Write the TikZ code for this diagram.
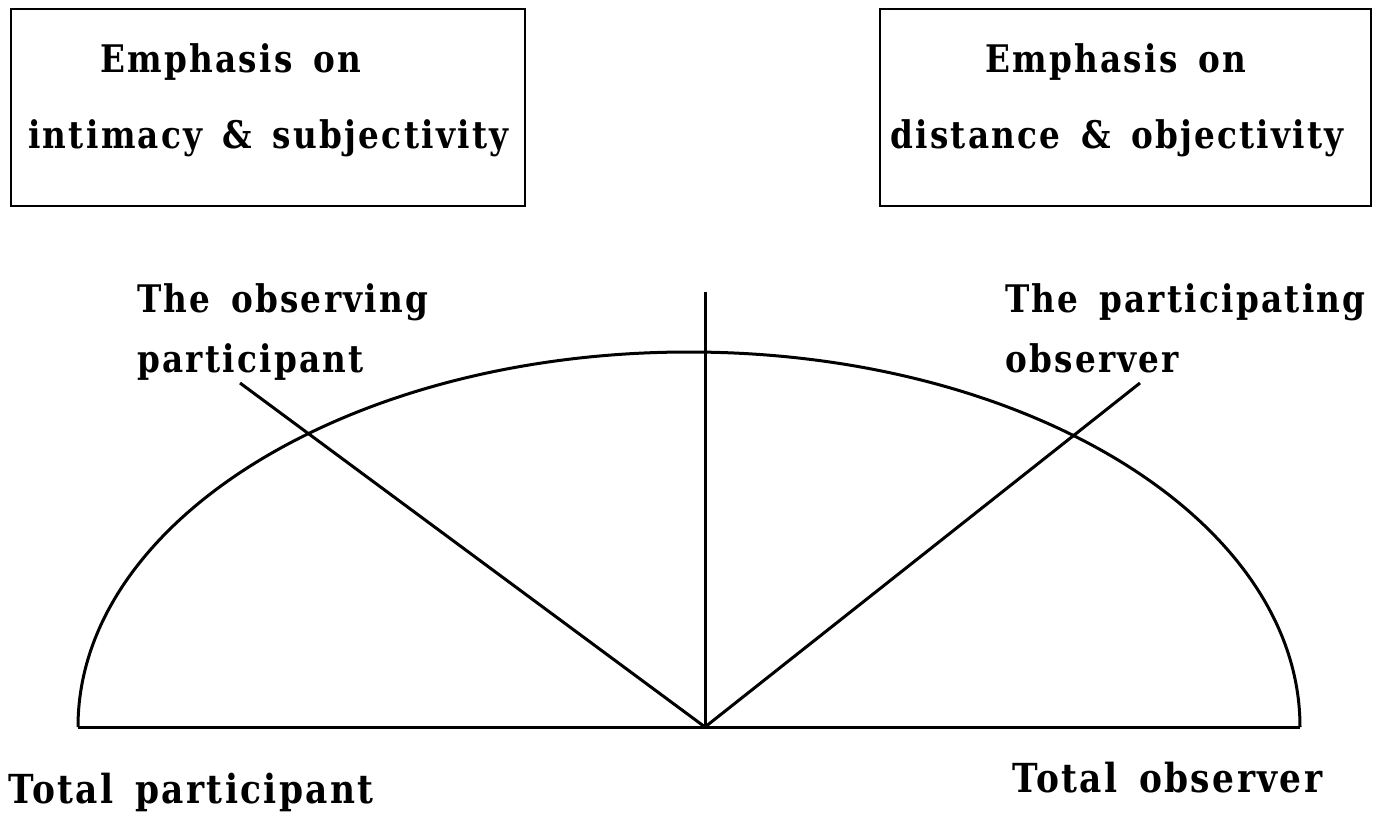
\documentclass[tikz,border=0pt]{standalone}
\usepackage{fontspec}
\newfontfamily\lblfont{DejaVu Serif}[LetterSpace=6,FakeStretch=0.86,WordSpace=1.5]
\begin{document}
\begin{tikzpicture}[x=1pt,y=-1pt,
  lbl/.style={anchor=base west,inner sep=0pt,font=\lblfont\bfseries\fontsize{38}{38}\selectfont},
  biglbl/.style={lbl,font=\lblfont\bfseries\fontsize{40}{40}\selectfont},
  frame/.style={draw,line width=2pt},
  ln/.style={line width=3pt}]
\useasboundingbox (0,0) rectangle (1377,814);
% boxes
\node[frame,minimum width=514pt,minimum height=197pt,anchor=north west] (lbox) at (10,8) {};
\node[frame,minimum width=491pt,minimum height=197pt,anchor=north west] (rbox) at (879,8) {};
\node[lbl] (l1) at (100,72) {Emphasis on};
\node[lbl] (l2) at (28,148) {intimacy \& subjectivity};
\node[lbl] (r1) at (985,72) {Emphasis on};
\node[lbl] (r2) at (890,148) {distance \& objectivity};
% labels
\node[lbl] (op1) at (137,312) {The observing};
\node[lbl] (op2) at (137,372) {participant};
\node[lbl] (po1) at (1005,312) {The participating};
\node[lbl] (po2) at (1005,372) {observer};
\node[biglbl] (tp) at (8,803) {Total participant};
\node[biglbl] (to) at (1012,792) {Total observer};
% semicircle
\coordinate (bl) at (78,727);
\coordinate (br) at (1300,727);
\coordinate (apex) at (705,727);
\coordinate (vtop) at (705,292);
\coordinate (ltop) at (240,383);
\coordinate (rtop) at (1140,383);
\draw[ln] (bl) arc[start angle=180,end angle=360,x radius=611,y radius=375];
\draw[ln] (bl) -- (br);
\draw[ln] (apex) -- (vtop);
\draw[ln] (apex) -- (ltop);
\draw[ln] (apex) -- (rtop);
\end{tikzpicture}
\end{document}
